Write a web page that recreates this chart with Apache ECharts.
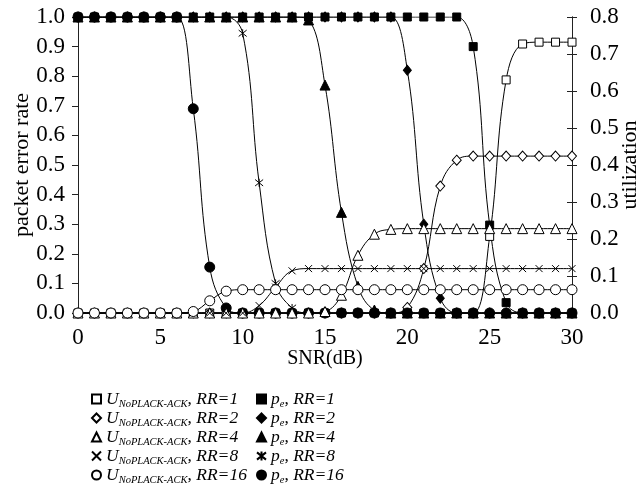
<!DOCTYPE html>
<html><head><meta charset="utf-8">
<script src="https://cdn.jsdelivr.net/npm/echarts@6/dist/echarts.min.js"></script>
<style>html,body{margin:0;padding:0;background:#fff}#c{width:640px;height:489px}</style>
</head><body><div id="c"></div>
<script>
// SNR (dB) sample points
const snr = [0,1,2,3,4,5,6,7,8,9,10,11,12,13,14,15,16,17,18,19,20,21,22,23,24,25,26,27,28,29,30];
// packet error rate p_e (left axis)
const peRR1  = [1,1,1,1,1,1,1,1,1,1,1,1,1,1,1,1,1,1,1,1,1,1,1,1,0.9,0.297,0.035,0,0,0,0];
const peRR2  = [1,1,1,1,1,1,1,1,1,1,1,1,1,1,1,1,1,1,1,1,0.82,0.3,0.05,0,0,0,0,0,0,0,0];
const peRR4  = [1,1,1,1,1,1,1,1,1,1,1,1,1,1,0.99,0.77,0.34,0.09,0.01,0,0,0,0,0,0,0,0,0,0,0,0];
const peRR8  = [1,1,1,1,1,1,1,1,1,1,0.945,0.44,0.1,0.017,0,0,0,0,0,0,0,0,0,0,0,0,0,0,0,0,0];
const peRR16 = [1,1,1,1,1,1,1,0.69,0.155,0.017,0,0,0,0,0,0,0,0,0,0,0,0,0,0,0,0,0,0,0,0,0];
// utilization U_NoPLACK-ACK (right axis)
const uRR1  = [0,0,0,0,0,0,0,0,0,0,0,0,0,0,0,0,0,0,0,0,0,0,0,0,0,0.207,0.63,0.727,0.732,0.732,0.732];
const uRR2  = [0,0,0,0,0,0,0,0,0,0,0,0,0,0,0,0,0,0,0,0,0.015,0.12,0.343,0.413,0.424,0.424,0.424,0.424,0.424,0.424,0.424];
const uRR4  = [0,0,0,0,0,0,0,0,0,0,0,0,0,0,0,0.004,0.048,0.156,0.213,0.226,0.228,0.228,0.228,0.228,0.228,0.228,0.228,0.228,0.228,0.228,0.228];
const uRR8  = [0,0,0,0,0,0,0,0,0,0,0,0.02,0.07,0.114,0.12,0.12,0.12,0.12,0.12,0.12,0.12,0.12,0.12,0.12,0.12,0.12,0.12,0.12,0.12,0.12,0.12];
const uRR16 = [0,0,0,0,0,0,0,0.004,0.033,0.059,0.063,0.063,0.063,0.063,0.063,0.063,0.063,0.063,0.063,0.063,0.063,0.063,0.063,0.063,0.063,0.063,0.063,0.063,0.063,0.063,0.063];
// axis tick ranges
const leftTicks = {min:0, max:1, step:0.1};
const rightTicks = {min:0, max:0.8, step:0.1};
const xTicks = {min:0, max:30, step:5};
const rrValues = ['1','2','4','8','16'];

const FONT = 'Liberation Serif';
const CROSS = 'path://M0,0L10,10M10,0L0,10';
const STAR = 'path://M0,1L10,9M10,1L0,9M5,0L5,10';

function pairs(v){ return snr.map((x,i)=>[x, v[i]]); }

function mk(name, vals, yIdx, symbol, size, filled){
  return {
    name, type:'line', yAxisIndex:yIdx, data:pairs(vals),
    smooth:0.4, symbol, symbolSize:size, showAllSymbol:true,
    lineStyle:{color:'#000', width:1},
    itemStyle:{color: filled ? '#000' : '#fff', borderColor:'#000', borderWidth: 1},
    emphasis:{disabled:true}, animation:false
  };
}

const uNames = rrValues.map(r=>'U RR=' + r);
const pNames = rrValues.map(r=>'pe RR=' + r);
const uSym = [['rect',8],['diamond',[9,10]],['triangle',10],[CROSS,7],['circle',10]];
const pSym = [['rect',8],['diamond',[8,10]],['triangle',10],[STAR,8],['circle',10]];

const uSeries = [uRR1,uRR2,uRR4,uRR8,uRR16].map((v,i)=>mk(uNames[i], v, 1, uSym[i][0], uSym[i][1], false));
const pSeries = [peRR1,peRR2,peRR4,peRR8,peRR16].map((v,i)=>mk(pNames[i], v, 0, pSym[i][0], pSym[i][1], true));
const series = [uSeries[0], uSeries[1], pSeries[4], pSeries[3], pSeries[2], pSeries[1], pSeries[0], uSeries[2], uSeries[3], uSeries[4]];

const rich = {
  i:{fontFamily:FONT, fontStyle:'italic', fontSize:17.5, color:'#000', lineHeight:18, verticalAlign:'middle'},
  n:{fontFamily:FONT, fontSize:17.5, color:'#000', lineHeight:18, verticalAlign:'middle'},
  s:{fontFamily:FONT, fontStyle:'italic', fontSize:10.5, color:'#000', lineHeight:18, verticalAlign:'top', padding:[9,0,0,0]}
};

function legend(left, names, syms, fmt){
  return {
    orient:'vertical', left, top:390, height:120, padding:0, itemWidth:9, itemHeight:9, itemGap:-1,
    selectedMode:false,
    data: names.map((n,i)=>({name:n, icon: syms[i][0]})),
    formatter: fmt,
    textStyle:{fontFamily:FONT, fontSize:17.5, color:'#000', rich}
  };
}

const axisLine = {show:true, lineStyle:{color:'#222', width:1}};
const labelStyle = {fontFamily:FONT, fontSize:23, color:'#000'};

const chart = echarts.init(document.getElementById('c'), null, {renderer:'canvas'});
chart.setOption({
  animation:false,
  grid:{left:78, right:68, top:17, bottom:176, containLabel:false, outerBoundsMode:'none'},
  xAxis:{type:'value', min:xTicks.min, max:xTicks.max, interval:xTicks.step,
    axisLine:{show:true, onZero:false, lineStyle:{color:'#222'}}, axisTick:{show:false}, splitLine:{show:false},
    axisLabel:Object.assign({margin:13}, labelStyle),
    name:'SNR(dB)', nameLocation:'middle', nameGap:36, nameMoveOverlap:false,
    nameTextStyle:{fontFamily:FONT, fontSize:20, color:'#000'}},
  yAxis:[
    {type:'value', position:'left', min:leftTicks.min, max:leftTicks.max, interval:leftTicks.step,
      axisLine, axisTick:{show:true, length:6, lineStyle:{color:'#222'}}, splitLine:{show:false},
      axisLabel:Object.assign({margin:13, formatter:v=>v.toFixed(1)}, labelStyle),
      name:'packet error rate', nameLocation:'middle', nameGap:45, nameMoveOverlap:false,
      nameTextStyle:{fontFamily:FONT, fontSize:22, color:'#000'}},
    {type:'value', position:'right', min:rightTicks.min, max:rightTicks.max, interval:rightTicks.step,
      axisLine, axisTick:{show:true, length:5, lineStyle:{color:'#222'}}, splitLine:{show:false},
      axisLabel:Object.assign({margin:18, formatter:v=>v.toFixed(1)}, labelStyle),
      name:'utilization', nameLocation:'middle', nameGap:47, nameMoveOverlap:false,
      nameTextStyle:{fontFamily:FONT, fontSize:22, color:'#000'}},
    {type:'value', position:'right', min:rightTicks.min, max:rightTicks.max, interval:rightTicks.step,
      axisLine, axisTick:{show:true, inside:true, length:5, lineStyle:{color:'#222'}}, splitLine:{show:false},
      axisLabel:{show:false}}
  ],
  legend:[
    legend(91, uNames, uSym, n=>'{i|U}{s|NoPLACK-ACK}{n|, }{i|RR=' + n.split('=')[1] + '}'),
    legend(256, pNames, pSym, n=>'{i|p}{s|e}{n|, }{i|RR=' + n.split('=')[1] + '}')
  ],
  series
});
</script></body></html>
